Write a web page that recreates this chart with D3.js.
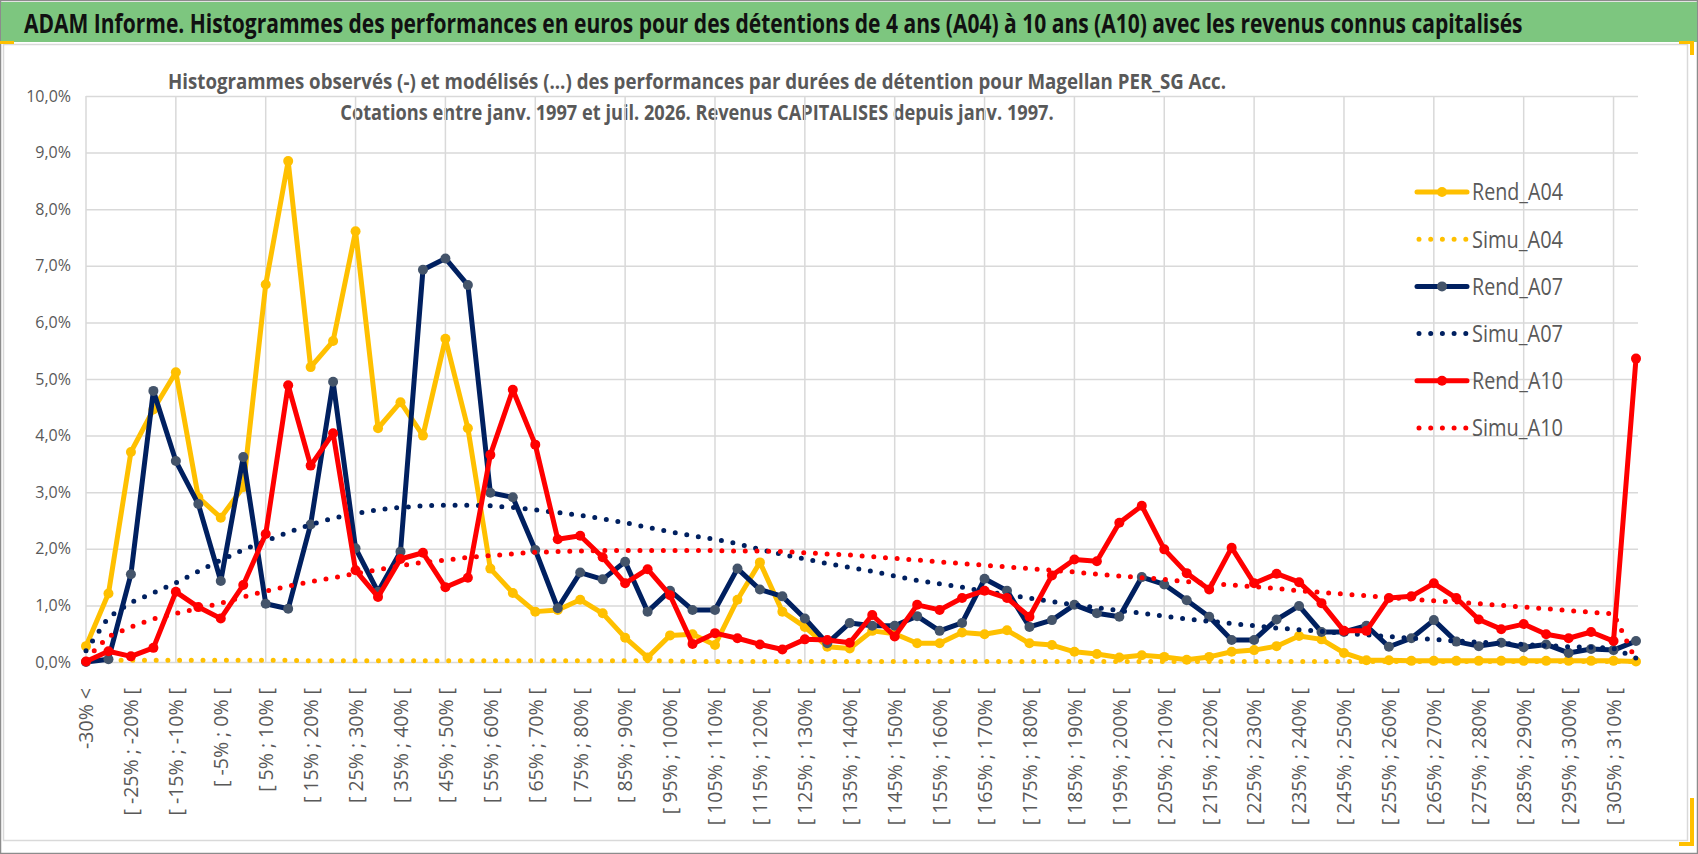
<!DOCTYPE html>
<html>
<head>
<meta charset="utf-8">
<script src="https://cdn.jsdelivr.net/npm/d3@7"></script>
<style>
  body { margin: 0; background: #fff; }
  svg { display: block; }
  text { font-family: "Open Sans", "Noto Sans", sans-serif; }
</style>
</head>
<body>
<div id="chart"></div>
<script>
// classes de performance (pas de 5 %)
const categories = [
  '-30% <', '[ -30% ; -25% [', '[ -25% ; -20% [', '[ -20% ; -15% [', '[ -15% ; -10% [', '[ -10% ; -5% [',
  '[ -5% ; 0% [', '[ 0% ; 5% [', '[ 5% ; 10% [', '[ 10% ; 15% [', '[ 15% ; 20% [', '[ 20% ; 25% [',
  '[ 25% ; 30% [', '[ 30% ; 35% [', '[ 35% ; 40% [', '[ 40% ; 45% [', '[ 45% ; 50% [', '[ 50% ; 55% [',
  '[ 55% ; 60% [', '[ 60% ; 65% [', '[ 65% ; 70% [', '[ 70% ; 75% [', '[ 75% ; 80% [', '[ 80% ; 85% [',
  '[ 85% ; 90% [', '[ 90% ; 95% [', '[ 95% ; 100% [', '[ 100% ; 105% [', '[ 105% ; 110% [', '[ 110% ; 115% [',
  '[ 115% ; 120% [', '[ 120% ; 125% [', '[ 125% ; 130% [', '[ 130% ; 135% [', '[ 135% ; 140% [', '[ 140% ; 145% [',
  '[ 145% ; 150% [', '[ 150% ; 155% [', '[ 155% ; 160% [', '[ 160% ; 165% [', '[ 165% ; 170% [', '[ 170% ; 175% [',
  '[ 175% ; 180% [', '[ 180% ; 185% [', '[ 185% ; 190% [', '[ 190% ; 195% [', '[ 195% ; 200% [', '[ 200% ; 205% [',
  '[ 205% ; 210% [', '[ 210% ; 215% [', '[ 215% ; 220% [', '[ 220% ; 225% [', '[ 225% ; 230% [', '[ 230% ; 235% [',
  '[ 235% ; 240% [', '[ 240% ; 245% [', '[ 245% ; 250% [', '[ 250% ; 255% [', '[ 255% ; 260% [', '[ 260% ; 265% [',
  '[ 265% ; 270% [', '[ 270% ; 275% [', '[ 275% ; 280% [', '[ 280% ; 285% [', '[ 285% ; 290% [', '[ 290% ; 295% [',
  '[ 295% ; 300% [', '[ 300% ; 305% [', '[ 305% ; 310% [', '> 310%'
]

// valeurs en %
const rendA04 = [
  0.28, 1.21, 3.71, 4.46, 5.12, 2.91, 2.55, 3.09, 6.67, 8.85,
  5.21, 5.67, 7.61, 4.13, 4.59, 4.00, 5.71, 4.13, 1.65, 1.22,
  0.89, 0.92, 1.10, 0.86, 0.43, 0.08, 0.47, 0.49, 0.30, 1.10,
  1.76, 0.89, 0.62, 0.27, 0.24, 0.55, 0.50, 0.33, 0.33, 0.52,
  0.49, 0.56, 0.33, 0.30, 0.18, 0.14, 0.08, 0.12, 0.09, 0.04,
  0.09, 0.18, 0.21, 0.28, 0.46, 0.40, 0.16, 0.03, 0.03, 0.02,
  0.02, 0.02, 0.02, 0.02, 0.02, 0.02, 0.02, 0.02, 0.02, 0.01
]
const simuA04 = [
  0.04, 0.03, 0.03, 0.03, 0.03, 0.03, 0.03, 0.03, 0.03, 0.03,
  0.02, 0.02, 0.02, 0.02, 0.02, 0.02, 0.02, 0.02, 0.02, 0.02,
  0.02, 0.02, 0.02, 0.02, 0.02, 0.02, 0.02, 0.01, 0.01, 0.01,
  0.01, 0.01, 0.01, 0.01, 0.01, 0.01, 0.01, 0.01, 0.01, 0.01,
  0.01, 0.01, 0.01, 0.01, 0.01, 0.01, 0.01, 0.01, 0.01, 0.01,
  0.01, 0.01, 0.01, 0.01, 0.01, 0.01, 0.01, 0.01, 0.01, 0.01,
  0.01, 0.01, 0.01, 0.01, 0.01, 0.01, 0.01, 0.01, 0.01, 0.01
]
const rendA07 = [
  0.00, 0.05, 1.55, 4.79, 3.55, 2.79, 1.43, 3.62, 1.03, 0.94,
  2.43, 4.95, 2.01, 1.24, 1.95, 6.93, 7.13, 6.66, 2.99, 2.91,
  1.98, 0.95, 1.58, 1.46, 1.77, 0.89, 1.26, 0.92, 0.92, 1.65,
  1.28, 1.16, 0.77, 0.33, 0.69, 0.64, 0.64, 0.81, 0.55, 0.69,
  1.47, 1.26, 0.62, 0.74, 1.01, 0.86, 0.80, 1.50, 1.37, 1.09,
  0.80, 0.39, 0.39, 0.75, 0.99, 0.53, 0.53, 0.64, 0.27, 0.42,
  0.74, 0.36, 0.28, 0.34, 0.26, 0.31, 0.16, 0.23, 0.21, 0.37
]
const simuA07 = [
  0.20, 0.79, 1.05, 1.22, 1.40, 1.60, 1.80, 1.98, 2.14, 2.29,
  2.43, 2.54, 2.62, 2.69, 2.73, 2.76, 2.77, 2.77, 2.76, 2.73,
  2.69, 2.64, 2.59, 2.53, 2.46, 2.38, 2.30, 2.23, 2.17, 2.09,
  1.99, 1.90, 1.82, 1.74, 1.67, 1.60, 1.52, 1.44, 1.38, 1.32,
  1.25, 1.19, 1.13, 1.07, 1.01, 0.96, 0.91, 0.86, 0.81, 0.76,
  0.72, 0.68, 0.64, 0.60, 0.57, 0.54, 0.51, 0.48, 0.45, 0.42,
  0.40, 0.37, 0.35, 0.33, 0.31, 0.29, 0.27, 0.26, 0.24, 0.07
]
const rendA10 = [
  0.01, 0.19, 0.10, 0.25, 1.24, 0.97, 0.77, 1.36, 2.26, 4.89,
  3.47, 4.04, 1.62, 1.15, 1.82, 1.93, 1.32, 1.49, 3.66, 4.81,
  3.84, 2.17, 2.23, 1.85, 1.39, 1.64, 1.18, 0.32, 0.51, 0.42,
  0.31, 0.22, 0.40, 0.39, 0.34, 0.83, 0.45, 1.01, 0.92, 1.13,
  1.26, 1.13, 0.80, 1.53, 1.81, 1.78, 2.46, 2.76, 1.99, 1.57,
  1.28, 2.02, 1.39, 1.56, 1.41, 1.04, 0.55, 0.55, 1.13, 1.16,
  1.39, 1.13, 0.75, 0.58, 0.67, 0.49, 0.42, 0.53, 0.37, 5.36
]
const simuA10 = [
  0.05, 0.45, 0.62, 0.76, 0.86, 0.94, 1.04, 1.15, 1.25, 1.34,
  1.42, 1.49, 1.56, 1.63, 1.70, 1.76, 1.80, 1.85, 1.88, 1.91,
  1.94, 1.95, 1.96, 1.97, 1.97, 1.97, 1.97, 1.97, 1.97, 1.96,
  1.96, 1.95, 1.93, 1.91, 1.89, 1.86, 1.83, 1.80, 1.77, 1.74,
  1.71, 1.68, 1.65, 1.62, 1.59, 1.55, 1.52, 1.49, 1.46, 1.42,
  1.39, 1.36, 1.33, 1.30, 1.26, 1.23, 1.20, 1.17, 1.14, 1.11,
  1.08, 1.06, 1.03, 1.00, 0.97, 0.94, 0.91, 0.88, 0.85, 0.03
]

const yTicks = [0, 1, 2, 3, 4, 5, 6, 7, 8, 9, 10]

const seriesNames = ['Rend_A04', 'Simu_A04', 'Rend_A07', 'Simu_A07', 'Rend_A10', 'Simu_A10']
const seriesValues = [rendA04, simuA04, rendA07, simuA07, rendA10, simuA10]
const seriesColors = ['#FFC000', '#FFC000', '#002060', '#002060', '#FF0000', '#FF0000']
const markerColors = ['#FFC000', null, '#44546A', null, '#FF0000', null]

const mainTitle = 'ADAM Informe. Histogrammes des performances en euros pour des détentions de 4 ans (A04) à 10 ans (A10) avec les revenus connus capitalisés'
const chartTitle = [
  'Histogrammes observés (-) et modélisés (...) des performances par durées de détention pour Magellan PER_SG Acc.',
  'Cotations entre janv. 1997 et juil. 2026. Revenus CAPITALISES depuis janv. 1997.'
]

const W = 1698, H = 854
const plot = {left: 86, right: 1636, top: 96, bottom: 662}

const svg = d3.select('#chart').append('svg')
  .attr('width', W).attr('height', H)

// squeeze a text horizontally so it takes the given width (Calibri-like look)
const fitWidth = (sel, width) => {
  sel.each(function () {
    const natural = this.getComputedTextLength()
    const k = Math.min(1, width / natural)
    const t = d3.select(this).attr('transform') || ''
    d3.select(this).attr('transform', `${t} scale(${k},1)`)
  })
}

// cadre et bandeau
svg.append('rect').attr('x', 0.5).attr('y', 0.5).attr('width', W - 1).attr('height', H - 1)
  .attr('fill', '#fff').attr('stroke', '#8c8c8c').attr('stroke-width', 1.5)
svg.append('rect').attr('x', 1).attr('y', 2).attr('width', W - 2).attr('height', 40)
  .attr('fill', '#7DC67F')
svg.append('rect').attr('x', 3.5).attr('y', 44.5).attr('width', 1684).attr('height', 796)
  .attr('fill', '#fff').attr('stroke', '#D9D9D9').attr('stroke-width', 1.5)
svg.append('text')
  .attr('transform', 'translate(24,33)')
  .attr('font-size', 26).attr('font-weight', 700).attr('fill', '#111')
  .text(mainTitle)
  .call(fitWidth, 1500)

// petites poignées dorées
const gold = svg.append('g').attr('fill', '#FFC000')
gold.append('rect').attr('x', 0).attr('y', 41).attr('width', 14).attr('height', 3)
gold.append('rect').attr('x', 1679).attr('y', 41).attr('width', 15).attr('height', 3)
gold.append('rect').attr('x', 1690).attr('y', 41).attr('width', 4).attr('height', 14)
gold.append('rect').attr('x', 1690).attr('y', 798).attr('width', 4).attr('height', 48)
gold.append('rect').attr('x', 1679).attr('y', 842).attr('width', 15).attr('height', 4)

// titre du graphique
svg.selectAll('.ctitle')
  .data(chartTitle)
  .enter()
    .append('text')
    .attr('class', 'ctitle')
    .attr('transform', (d, i) => `translate(697,${89 + i * 31})`)
    .attr('text-anchor', 'middle')
    .attr('font-size', 21).attr('font-weight', 700).attr('fill', '#595959')
    .text((d) => d)
    .each(function (d, i) { d3.select(this).call(fitWidth, i === 0 ? 1059 : 714) })

const x = d3.scalePoint().domain(categories).range([plot.left, plot.right])
const y = d3.scaleLinear().domain([0, 10]).range([plot.bottom, plot.top])
const fmtPct = (v) => v.toFixed(1).replace('.', ',') + '%'

// grille verticale tous les 4 intervalles
svg.append('g')
  .selectAll('line')
  .data(categories.filter((d, i) => i % 4 === 0))
  .enter()
    .append('line')
    .attr('x1', (d) => x(d)).attr('x2', (d) => x(d))
    .attr('y1', plot.top).attr('y2', plot.bottom)
    .attr('stroke', '#D9D9D9').attr('stroke-width', 1.5)

// axe Y + grille horizontale
const yAxis = svg.append('g')
  .attr('transform', `translate(${plot.left},0)`)
  .call(d3.axisLeft(y).tickValues(yTicks).tickFormat(fmtPct)
    .tickSize(-(plot.right + 2 - plot.left)).tickPadding(15))
yAxis.select('.domain').remove()
yAxis.selectAll('line').attr('stroke', '#D9D9D9').attr('stroke-width', 1.5)
yAxis.selectAll('text').attr('fill', '#595959').attr('font-size', 16)
  .style('font-family', '"Open Sans", "Noto Sans", sans-serif')

// axe X (une étiquette sur deux)
const xAxis = svg.append('g')
  .attr('transform', `translate(0,${plot.bottom})`)
  .call(d3.axisBottom(x).tickValues(categories.filter((d, i) => i % 2 === 0)).tickSize(0))
xAxis.select('.domain').remove()
xAxis.selectAll('text')
  .attr('transform', 'rotate(-90)')
  .attr('x', -26).attr('y', 0).attr('dy', '0.35em')
  .attr('text-anchor', 'end')
  .attr('fill', '#595959').attr('font-size', 19.5)
  .style('font-family', '"Open Sans", "Noto Sans", sans-serif')

// séries
const line = d3.line()
  .x((d, i) => x(categories[i]))
  .y((d) => y(d))

seriesValues.forEach((vals, s) => {
  const dotted = markerColors[s] === null
  const g = svg.append('g')
  g.append('path')
    .datum(vals)
    .attr('d', line)
    .attr('fill', 'none')
    .attr('stroke', seriesColors[s])
    .attr('stroke-width', 5)
    .attr('stroke-linejoin', 'round')
    .attr('stroke-linecap', 'round')
    .attr('stroke-dasharray', dotted ? '0 11.7' : null)
  if (!dotted) {
    g.selectAll('circle')
      .data(vals)
      .enter()
        .append('circle')
        .attr('cx', (d, i) => x(categories[i]))
        .attr('cy', (d) => y(d))
        .attr('r', 5)
        .attr('fill', markerColors[s])
  }
})

// légende
const legend = svg.append('g').attr('transform', 'translate(1417,192)')
const items = legend.selectAll('g')
  .data(seriesNames)
  .enter()
    .append('g')
    .attr('transform', (d, i) => `translate(0,${i * 47.2})`)
items.append('line')
  .attr('x1', (d, i) => markerColors[i] === null ? 2 : 0)
  .attr('x2', 50).attr('y1', 0).attr('y2', 0)
  .attr('stroke', (d, i) => seriesColors[i])
  .attr('stroke-width', 5)
  .attr('stroke-linecap', 'round')
  .attr('stroke-dasharray', (d, i) => markerColors[i] === null ? '0 11.7' : null)
items.filter((d, i) => markerColors[i] !== null)
  .append('circle')
  .attr('cx', 25).attr('cy', 0).attr('r', 5)
  .attr('fill', (d) => markerColors[seriesNames.indexOf(d)])
items.append('text')
  .attr('transform', 'translate(55,0)')
  .attr('dy', '0.35em')
  .attr('font-size', 24).attr('fill', '#595959')
  .text((d) => d)
  .call(fitWidth, 91)
</script>
</body>
</html>
